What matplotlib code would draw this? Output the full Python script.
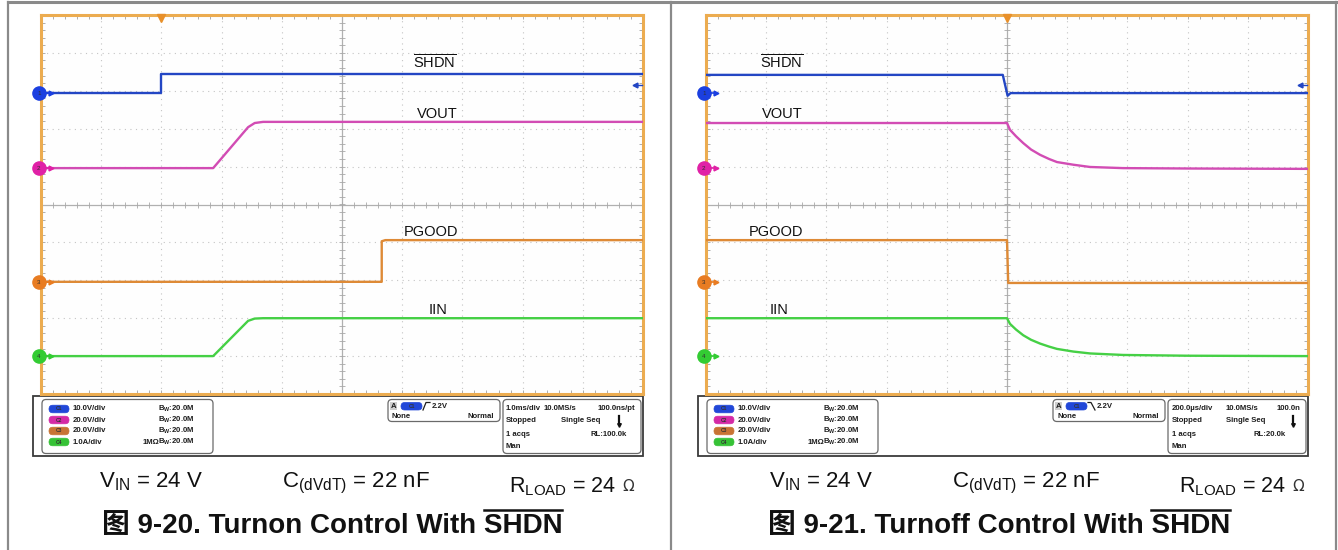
import numpy as np
import matplotlib.pyplot as plt
from matplotlib.patches import FancyBboxPatch, Rectangle

plt.rcParams['font.family'] = ['Liberation Sans', 'Noto Sans CJK SC']
plt.rcParams['mathtext.fontset'] = 'custom'
plt.rcParams['mathtext.rm'] = 'Liberation Sans'
plt.rcParams['mathtext.bf'] = 'Liberation Sans:bold'
plt.rcParams['mathtext.it'] = 'Liberation Sans:italic'

# scope traces, x and y in screen divisions (10 x 10 grid, y=0 at bottom)
# turn-on capture (figure 9-20)
on_shdn_x = [0, 2.0, 2.0, 10]
on_shdn_y = [7.94, 7.94, 8.44, 8.44]
on_vout_x = [0, 2.86, 3.44, 3.55, 3.69, 10]
on_vout_y = [5.96, 5.96, 7.04, 7.15, 7.18, 7.18]
on_pgood_x = [0, 5.66, 5.66, 5.72, 10]
on_pgood_y = [2.96, 2.96, 4.03, 4.06, 4.06]
on_iin_x = [0, 2.86, 3.44, 3.55, 3.69, 10]
on_iin_y = [1.0, 1.0, 1.93, 1.99, 2.0, 2.0]

# turn-off capture (figure 9-21)
off_shdn_x = [0, 4.93, 5.01, 5.06, 10]
off_shdn_y = [8.42, 8.42, 7.87, 7.94, 7.94]
off_vout_x = [0, 5.0, 5.05, 5.15, 5.27, 5.4, 5.55, 5.7, 5.83, 6.1, 6.38, 6.93, 8.0, 10]
off_vout_y = [7.15, 7.15, 6.97, 6.80, 6.62, 6.45, 6.31, 6.20, 6.12, 6.05, 5.99, 5.96, 5.95, 5.94]
off_pgood_x = [0, 5.0, 5.02, 10]
off_pgood_y = [4.06, 4.06, 2.93, 2.93]
off_iin_x = [0, 5.0, 5.05, 5.15, 5.27, 5.4, 5.55, 5.7, 5.83, 6.1, 6.38, 6.93, 8.0, 10]
off_iin_y = [2.0, 2.0, 1.85, 1.70, 1.55, 1.43, 1.33, 1.25, 1.19, 1.12, 1.07, 1.03, 1.01, 1.0]

channel_num = ['1', '2', '3', '4']
channel_level = [7.93, 5.95, 2.95, 1.0]
channel_scale = ['10.0V/div', '20.0V/div', '20.0V/div', '1.0A/div']
trace_names = [r'$\overline{\mathrm{SHDN}}$', 'VOUT', 'PGOOD', 'IIN']
label_y = [8.58, 7.28, 4.17, 2.11]
on_label_x = [6.54, 6.59, 6.48, 6.59]
off_label_x = [1.26, 1.26, 1.16, 1.21]
on_trigger = 2.0
off_trigger = 5.0

on_timebase = ['1.0ms/div', '10.0MS/s', '100.0ns/pt', 'Stopped', 'Single Seq',
               '1 acqs', 'RL:100.0k', 'Man']
off_timebase = ['200.0µs/div', '10.0MS/s', '100.0n', 'Stopped', 'Single Seq',
                '1 acqs', 'RL:20.0k', 'Man']

captions = ['图 9-20. Turnon Control With SHDN', '图 9-21. Turnoff Control With SHDN']

trace_colors = ['#2346c4', '#d24cb4', '#de8a36', '#45d045']
marker_colors = ['#1b3fe0', '#e021a6', '#e87c22', '#33cc33']
pill_colors = ['#2147d8', '#d42aa6', '#c87434', '#36c236']
orange = '#ecac50'

W, H = 1338, 550
fig = plt.figure(figsize=(W / 100, H / 100), dpi=100)
bg = fig.add_axes([0, 0, 1, 1])
bg.set_xlim(0, W)
bg.set_ylim(H, 0)
bg.axis('off')

# outer frame
frame_c = '#8a8a8a'
bg.plot([8, 1336], [2, 2], color=frame_c, lw=2.2)
for fx in [8, 671, 1336]:
    bg.plot([fx, fx], [2, H], color=frame_c, lw=1.6)


def scope(x0, traces, label_x, trig):
    ax = fig.add_axes([x0 / W, (H - 394) / H, 602 / W, 379 / H])
    ax.set_xlim(0, 10)
    ax.set_ylim(0, 10)
    ax.set_facecolor('#fefefe')
    for s in ax.spines.values():
        s.set_color(orange)
        s.set_linewidth(2.2)
    ax.set_xticks(range(11))
    ax.set_yticks(range(11))
    ax.set_xticks(np.arange(0, 10.01, 0.2), minor=True)
    ax.set_yticks(np.arange(0, 10.01, 0.2), minor=True)
    ax.tick_params(which='both', direction='in', length=3, width=0.6, color='#a0a0a0',
                   top=True, right=True, labelbottom=False, labelleft=False)
    for v in range(1, 10):
        if v == 5:
            ax.axvline(v, color='#b0b0b0', lw=0.9)
            ax.axhline(v, color='#b0b0b0', lw=0.9)
        else:
            ax.axvline(v, color='#c4c4c4', lw=0.8, ls=(0, (1, 4)))
            ax.axhline(v, color='#c4c4c4', lw=0.8, ls=(0, (1, 4)))
    tk = np.arange(0.2, 10, 0.2)
    ax.plot(tk, np.full(len(tk), 5.0), ls='none', marker='|', ms=5, mew=0.6, color='#a8a8a8')
    ax.plot(np.full(len(tk), 5.0), tk, ls='none', marker='_', ms=5, mew=0.6, color='#a8a8a8')

    for (xs, ys), c in zip(traces, trace_colors):
        ax.plot(xs, ys, color=c, lw=1.7, zorder=4)

    for name, lx, ly in zip(trace_names, label_x, label_y):
        ax.text(lx, ly, name, fontsize=10.5, ha='center', va='baseline', color='#111111', zorder=6)

    for n, lvl, c in zip(channel_num, channel_level, marker_colors):
        ax.plot(0.16, lvl, marker='>', ms=3.5, color=c, clip_on=False, zorder=6)
        ax.plot([0, 0.14], [lvl, lvl], color=c, lw=1.2, clip_on=False, zorder=6)
        ax.plot(-0.035, lvl, marker='o', ms=9.5, color=c, clip_on=False, zorder=7)
        ax.text(-0.035, lvl, n, fontsize=4.5, ha='center', va='center', color='#303030',
                clip_on=False, zorder=8)

    ax.plot(trig, 9.93, marker='v', ms=6, color='#e8902a', clip_on=False, zorder=8)
    ax.plot([9.86, 9.99], [8.15, 8.15], color=trace_colors[0], lw=1, clip_on=False, zorder=6)
    ax.plot(9.86, 8.15, marker='<', ms=3.5, color=trace_colors[0], clip_on=False, zorder=6)
    return ax


scope(41, [(on_shdn_x, on_shdn_y), (on_vout_x, on_vout_y), (on_pgood_x, on_pgood_y),
           (on_iin_x, on_iin_y)], on_label_x, on_trigger)
scope(706, [(off_shdn_x, off_shdn_y), (off_vout_x, off_vout_y), (off_pgood_x, off_pgood_y),
            (off_iin_x, off_iin_y)], off_label_x, off_trigger)

txt_c = '#1e1e1e'
info_fs = 5.6


def rbox(x, y, w, h, r=4, ec='#6a6a6a', fc='white', lw=0.9):
    bg.add_patch(FancyBboxPatch((x, y), w, h, boxstyle='round,pad=0,rounding_size=%g' % r,
                                ec=ec, fc=fc, lw=lw))


def info_bar(ox, timebase, tb_pos, icon_x, rising):
    bg.add_patch(Rectangle((33 + ox, 396), 610, 60, ec='#3a3a3a', fc='white', lw=1.3))
    # channel box
    rbox(42 + ox, 399.5, 171, 54)
    rows = [409, 420, 431, 442]
    for i, (ry, c, sc) in enumerate(zip(rows, pill_colors, channel_scale)):
        rbox(49 + ox, ry - 3.8, 20, 7.6, r=3.8, ec=c, fc=c, lw=0.5)
        bg.text(59 + ox, ry, 'C' + channel_num[i], fontsize=3.6, ha='center', va='center',
                color='#333333', fontweight='bold')
        bg.text(73 + ox, ry, sc, fontsize=info_fs, ha='left', va='center', color=txt_c,
                fontweight='bold')
        bg.text(195 + ox, ry, r'B$_\mathbf{W}$:20.0M', fontsize=info_fs, ha='right',
                va='center', color=txt_c, fontweight='bold')
    bg.text(143 + ox, rows[3], '1MΩ', fontsize=info_fs, ha='left', va='center', color=txt_c,
            fontweight='bold')
    # trigger box
    rbox(388 + ox, 399.5, 112, 22)
    bg.add_patch(Rectangle((390 + ox, 402), 7, 8, fc='#cfcfcf', ec='none'))
    bg.text(393.5 + ox, 406, 'A', fontsize=info_fs, ha='center', va='center', color=txt_c,
            fontweight='bold')
    rbox(401 + ox, 402.5, 21, 7.5, r=3.7, ec=pill_colors[0], fc=pill_colors[0], lw=0.5)
    bg.text(411.5 + ox, 406.2, 'C1', fontsize=3.6, ha='center', va='center', color='#333333',
            fontweight='bold')
    if rising:
        bg.plot([423 + ox, 426 + ox, 430 + ox], [410, 402.5, 402.5], color=txt_c, lw=0.9)
    else:
        bg.plot([423 + ox, 426 + ox, 430 + ox], [402.5, 402.5, 410], color=txt_c, lw=0.9)
    bg.text(432 + ox, 406, '2.2V', fontsize=info_fs, ha='left', va='center', color=txt_c,
            fontweight='bold')
    bg.text(392 + ox, 417, 'None', fontsize=info_fs, ha='left', va='center', color=txt_c,
            fontweight='bold')
    bg.text(494 + ox, 417, 'Normal', fontsize=info_fs, ha='right', va='center', color=txt_c,
            fontweight='bold')
    # timebase box
    rbox(503 + ox, 399.5, 138, 54)
    for s, (tx, ty, ha) in zip(timebase, tb_pos):
        bg.text(tx, ty, s, fontsize=info_fs, ha=ha, va='center', color=txt_c, fontweight='bold')
    bg.plot([icon_x, icon_x], [416, 424], color='#111111', lw=1.6)
    bg.plot(icon_x, 424.5, marker='v', ms=2.6, color='#111111')


on_pos = [(506, 408, 'left'), (544, 408, 'left'), (635, 408, 'right'), (506, 421, 'left'),
          (561, 421, 'left'), (506, 434, 'left'), (627, 434, 'right'), (506, 446, 'left')]
off_pos = [(1172, 408, 'left'), (1226, 408, 'left'), (1300, 408, 'right'), (1172, 421, 'left'),
           (1226, 421, 'left'), (1172, 434, 'left'), (1286, 434, 'right'), (1172, 446, 'left')]
info_bar(0, on_timebase, on_pos, 619, True)
info_bar(665, off_timebase, off_pos, 1293, False)

# conditions line and captions
cond_fs = 16
for ox in [0, 670]:
    bg.text(99 + ox, 487, r'V$_{\mathrm{IN}}$ = 24 V', fontsize=cond_fs, ha='left',
            va='baseline', color='#111111')
    bg.text(282 + ox, 487, r'C$_{\mathrm{(dVdT)}}$ = 22 nF', fontsize=cond_fs, ha='left',
            va='baseline', color='#111111')
    bg.text(509 + ox, 492, r'R$_{\mathrm{LOAD}}$ = 24', fontsize=15.5, ha='left',
            va='baseline', color='#111111')
    bg.text(622 + ox, 491, 'Ω', fontsize=11, ha='left', va='baseline', color='#333333',
            family='DejaVu Sans')

cap_fs = 20
fig.canvas.draw()
renderer = fig.canvas.get_renderer()
inv = bg.transData.inverted()
for cx, cap in zip([332, 999], captions):
    t = bg.text(cx, 533, cap, fontsize=cap_fs, fontweight='bold', ha='center', va='baseline',
                color='#111111')
    probe = bg.text(0, 0, 'SHDN', fontsize=cap_fs, fontweight='bold')
    bb = t.get_window_extent(renderer)
    pw = probe.get_window_extent(renderer).width
    probe.remove()
    (x1, _), = inv.transform([(bb.x1, bb.y0)])
    (x0, _), = inv.transform([(bb.x1 - pw, bb.y0)])
    cap_h = 0.729 * cap_fs * 100 / 72
    yo = 533 - cap_h - 3
    bg.plot([x0, x1], [yo, yo], color='#111111', lw=1.8)

fig.savefig('out.png', dpi=100)
